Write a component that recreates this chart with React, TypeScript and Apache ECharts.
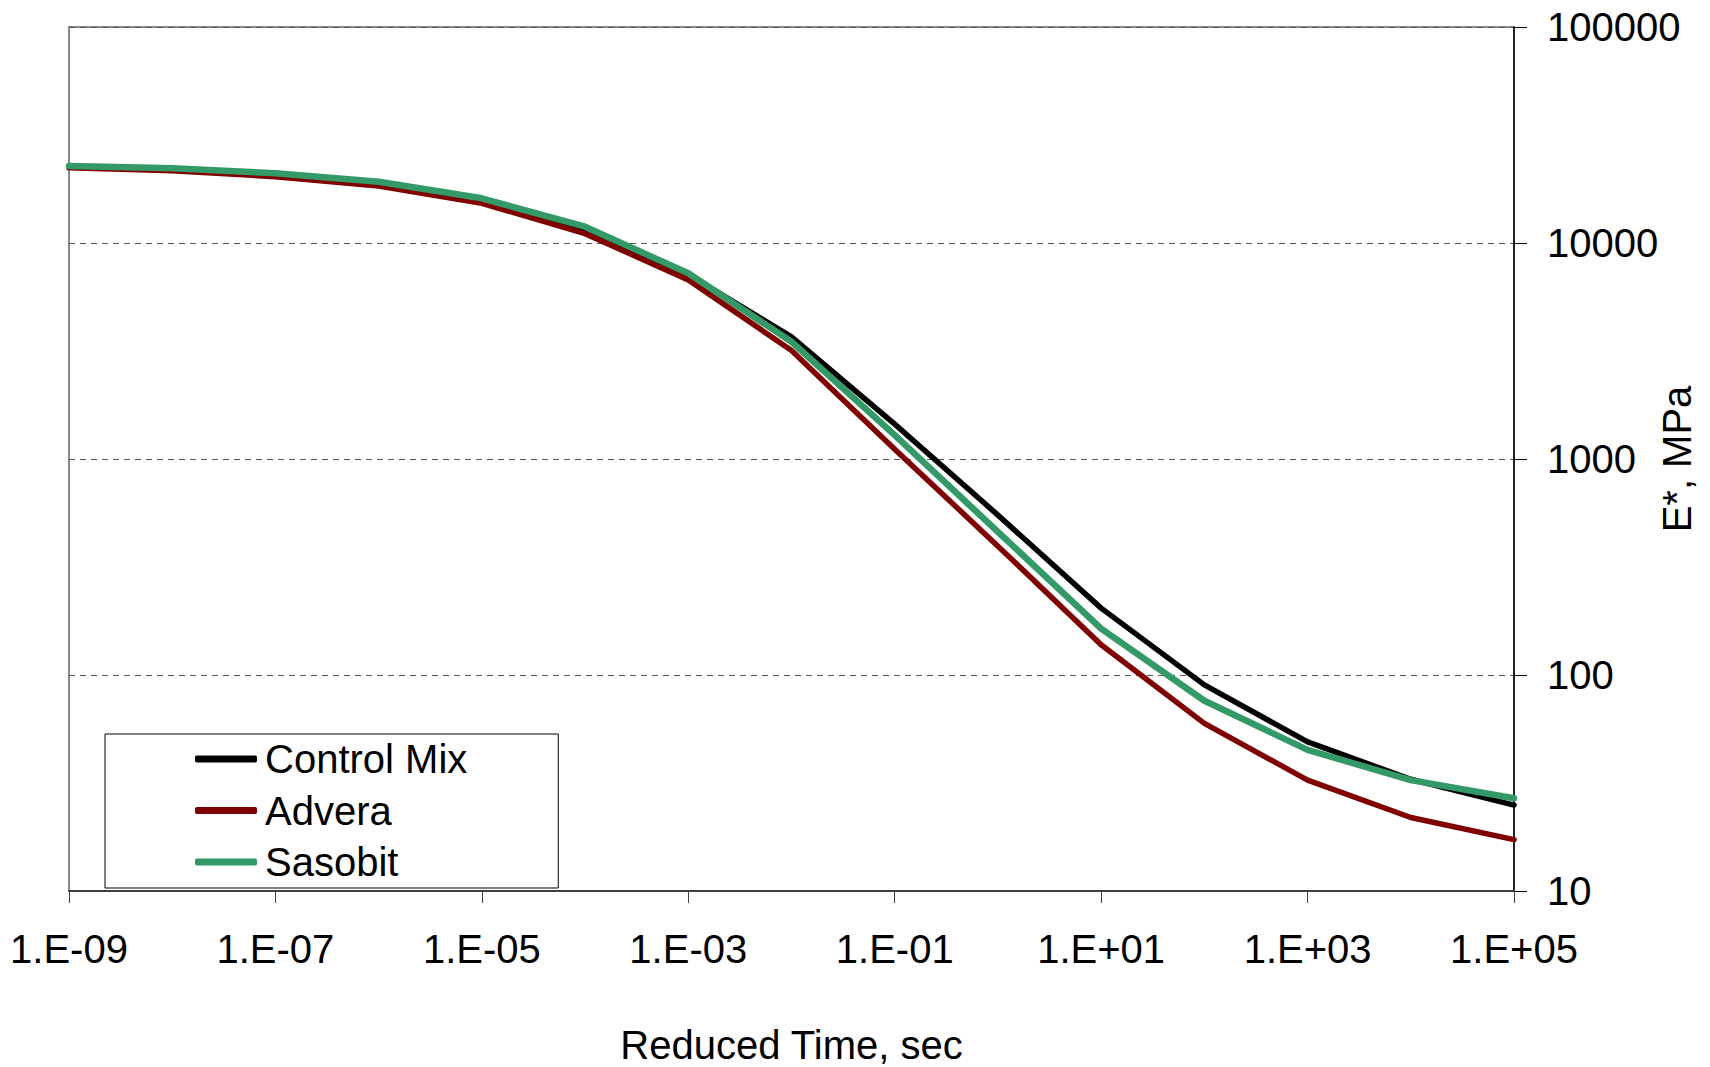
import React, { useEffect, useRef } from "react";
import * as echarts from "echarts";

// Reduced time (decades), shown as Excel-style scientific labels
const categories = [
  "1.E-09", "1.E-08", "1.E-07", "1.E-06", "1.E-05", "1.E-04", "1.E-03", "1.E-02",
  "1.E-01", "1.E+00", "1.E+01", "1.E+02", "1.E+03", "1.E+04", "1.E+05",
];

// |E*| in MPa
const controlMix = [22600, 22000, 20800, 19000, 15900, 11600, 7150, 3680, 1450, 550, 204, 90, 49, 32.9, 25.0];
const advera = [22300, 21600, 20270, 18360, 15270, 11050, 6750, 3180, 1110, 395, 138, 59.7, 32.6, 21.9, 17.3];
const sasobit = [22730, 22180, 21030, 19220, 16100, 11900, 7240, 3490, 1290, 460, 164, 76, 45, 32.6, 26.9];

const yMin = 10;
const yMax = 100000;

const FONT = '"Liberation Sans", Arial, sans-serif';

export default function App() {
  const ref = useRef<HTMLDivElement>(null);

  useEffect(() => {
    if (!ref.current) return;
    const chart = echarts.init(ref.current, null, { renderer: "svg" });
    const mk = (name: string, data: number[], color: string, width: number) => ({
      name,
      type: "line",
      data,
      showSymbol: false,
      symbol: "none",
      smooth: false,
      color,
      itemStyle: { color },
      lineStyle: { color, width, cap: "round", join: "round" },
    });
    chart.setOption({
      animation: false,
      backgroundColor: "#ffffff",
      textStyle: { fontFamily: FONT },
      grid: {
        left: 69,
        right: 196,
        top: 27,
        bottom: 176,
        containLabel: false,
        outerBoundsMode: "none",
        show: true,
        borderColor: "#888888",
        borderWidth: 2,
        backgroundColor: "transparent",
      },
      legend: {
        orient: "vertical",
        left: 105,
        top: 734,
        padding: [5, 91, 6, 90],
        itemGap: 11.5,
        itemWidth: 62,
        itemHeight: 7,
        icon: "roundRect",
        align: "left",
        borderColor: "#000000",
        borderWidth: 1,
        backgroundColor: "#ffffff",
        textStyle: { fontSize: 40, color: "#000000", fontFamily: FONT, padding: [0, 0, 0, 3] },
        data: ["Control Mix", "Advera", "Sasobit"],
      },
      xAxis: {
        type: "category",
        data: categories,
        boundaryGap: false,
        name: "Reduced Time, sec",
        nameLocation: "middle",
        nameGap: 134,
        nameMoveOverlap: false,
        nameTextStyle: { fontSize: 40, color: "#000000", fontFamily: FONT },
        axisLine: { show: true, lineStyle: { color: "#404040", width: 2 } },
        axisTick: { show: true, interval: 1, length: 12, inside: false, lineStyle: { color: "#404040", width: 1 } },
        axisLabel: { interval: 1, fontSize: 40, color: "#000000", margin: 38, fontFamily: FONT },
        splitLine: { show: false },
      },
      yAxis: {
        type: "log",
        logBase: 10,
        min: yMin,
        max: yMax,
        position: "right",
        name: "E*, MPa",
        nameLocation: "middle",
        nameGap: 143,
        nameMoveOverlap: false,
        nameTextStyle: { fontSize: 40, color: "#000000", fontFamily: FONT },
        axisLine: { show: true, lineStyle: { color: "#000000", width: 1.5 } },
        axisTick: { show: true, length: 13, inside: false, lineStyle: { color: "#000000", width: 1 } },
        axisLabel: {
          fontSize: 40,
          color: "#000000",
          margin: 33,
          fontFamily: FONT,
          formatter: (v: number) => String(Math.round(v)),
        },
        splitLine: { show: true, lineStyle: { color: "#555555", width: 1, type: [6, 5] } },
        minorTick: { show: false },
        minorSplitLine: { show: false },
      },
      series: [
        mk("Control Mix", controlMix, "#000000", 5.5),
        mk("Advera", advera, "#800000", 5.5),
        mk("Sasobit", sasobit, "#339966", 6.5),
      ],
    });
    return () => chart.dispose();
  }, []);

  return (
    <div
      ref={ref}
      style={{ position: "fixed", left: 0, top: 0, width: 1710, height: 1067, background: "#ffffff" }}
    />
  );
}
